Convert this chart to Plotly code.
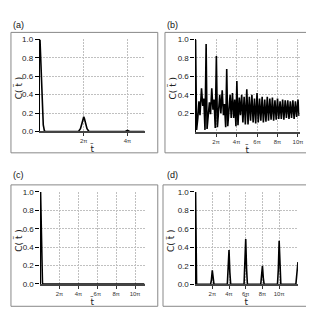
import plotly.graph_objects as go

W, H = 314, 313

# ---------------- data (time in units of pi) ----------------
a_t = [0, 0.03, 0.06, 0.10, 0.15, 0.20, 0.24, 1.76, 1.85, 1.92, 1.97, 2.0, 2.03, 2.08, 2.15, 2.24,
       3.9, 4.0, 4.1, 4.78]
a_v = [1.0, 0.80, 0.45, 0.22, 0.07, 0.01, 0.0, 0.0, 0.03, 0.09, 0.14, 0.16, 0.14, 0.09, 0.03, 0.0,
       0.0, 0.012, 0.0, 0.0]

b_t = [0.00, 0.10, 0.22, 0.33, 0.43, 0.58, 0.70, 0.80, 0.92,
       1.03, 1.12, 1.25, 1.35, 1.46, 1.58, 1.70, 1.80, 1.92,
       2.03, 2.13, 2.25, 2.36, 2.47, 2.60, 2.72, 2.82, 2.94,
       3.04, 3.14, 3.26, 3.37, 3.48, 3.60, 3.72, 3.82, 3.94,
       4.03, 4.14, 4.27, 4.38, 4.50, 4.62, 4.74, 4.86,
       5.00, 5.12, 5.25, 5.37, 5.50, 5.62, 5.75, 5.87,
       6.00, 6.12, 6.25, 6.37, 6.50, 6.62, 6.75, 6.87,
       7.00, 7.12, 7.25, 7.37, 7.50, 7.62, 7.75, 7.87,
       8.00, 8.12, 8.25, 8.37, 8.50, 8.62, 8.75, 8.87,
       9.00, 9.12, 9.25, 9.37, 9.50, 9.62, 9.75, 9.87, 10.0, 10.1]
b_v = [1.00, 0.02, 0.15, 0.33, 0.18, 0.47, 0.28, 0.36, 0.02,
       0.95, 0.03, 0.20, 0.32, 0.19, 0.47, 0.24, 0.35, 0.04,
       0.82, 0.05, 0.25, 0.40, 0.20, 0.45, 0.18, 0.30, 0.05,
       0.68, 0.06, 0.30, 0.40, 0.15, 0.42, 0.15, 0.35, 0.06,
       0.55, 0.07, 0.37, 0.18, 0.40, 0.10, 0.38, 0.08,
       0.46, 0.08, 0.38, 0.12, 0.40, 0.10, 0.36, 0.09,
       0.42, 0.10, 0.36, 0.12, 0.38, 0.10, 0.35, 0.11,
       0.38, 0.12, 0.36, 0.13, 0.37, 0.12, 0.34, 0.13,
       0.36, 0.14, 0.33, 0.14, 0.35, 0.13, 0.34, 0.15,
       0.34, 0.14, 0.33, 0.15, 0.34, 0.14, 0.33, 0.16, 0.35, 0.17]

c_t = [0, 0.04, 0.08, 0.12, 0.16, 0.20, 0.24, 11.0]
c_v = [1.0, 0.75, 0.45, 0.20, 0.06, 0.01, 0.0, 0.0]

d_t = [0, 0.04, 0.08, 0.12,
       1.8, 1.9, 2.0, 2.1, 2.2,
       3.8, 3.9, 4.0, 4.1, 4.2,
       5.8, 5.9, 6.0, 6.1, 6.2,
       7.8, 7.9, 8.0, 8.1, 8.2,
       9.8, 9.9, 10.0, 10.1, 10.2,
       12.0, 12.25]
d_v = [1.0, 0.55, 0.15, 0.0,
       0.0, 0.05, 0.15, 0.05, 0.0,
       0.0, 0.13, 0.37, 0.13, 0.0,
       0.0, 0.17, 0.49, 0.17, 0.0,
       0.0, 0.07, 0.20, 0.07, 0.0,
       0.0, 0.16, 0.47, 0.16, 0.0,
       0.0, 0.24]

y_ticks_full = [0.0, 0.2, 0.4, 0.6, 0.8, 1.0]
y_ticks_b = [0.2, 0.4, 0.6, 0.8, 1.0]
x_ticks_a = [2, 4]
x_ticks_other = [2, 4, 6, 8, 10]
x_labels_a = ["2π", "4π"]
x_labels_other = ["2π", "4π", "6π", "8π", "10π"]
panel_labels = ["(a)", "(b)", "(c)", "(d)"]

# ---------------- layout geometry (pixels) ----------------
def fx(px):
    return px / W

def fy(py):
    return 1 - py / H

panels = [
    dict(t=a_t, v=a_v, xr=[0, 4.78], area=(32.4, 138.3, 28.3, 123.0),
         frame=(3, 151.7, 21, 145), xt=x_ticks_a, xl=x_labels_a, yt=y_ticks_full,
         lab=(3, 13)),
    dict(t=b_t, v=b_v, xr=[0, 10.15], area=(190.0, 295.3, 28.3, 123.3),
         frame=(159, 309, 21, 145), xt=x_ticks_other, xl=x_labels_other, yt=y_ticks_b,
         lab=(159, 13)),
    dict(t=c_t, v=c_v, xr=[0, 11.0], area=(33.0, 138.3, 185.3, 280.0),
         frame=(3, 151.7, 178, 303), xt=x_ticks_other, xl=x_labels_other, yt=y_ticks_full,
         lab=(3, 168)),
    dict(t=d_t, v=d_v, xr=[0, 12.25], area=(190.0, 293.7, 185.3, 280.3),
         frame=(157, 309, 178, 303), xt=x_ticks_other, xl=x_labels_other, yt=y_ticks_full,
         lab=(159, 168)),
]

fig = go.Figure()
shapes = []
annotations = []
layout_axes = {}
FONT = "Liberation Sans, Arial, sans-serif"
TFONT = "DejaVu Sans, sans-serif"

for i, p in enumerate(panels):
    n = "" if i == 0 else str(i + 1)
    x0, x1, yt, yb = p["area"]
    fig.add_trace(go.Scatter(x=p["t"], y=p["v"], mode="lines",
                             line=dict(color="black", width=1.6),
                             xaxis="x" + n, yaxis="y" + n, showlegend=False,
                             hoverinfo="skip"))
    layout_axes["xaxis" + n] = dict(
        domain=[fx(x0), fx(x1)], range=p["xr"], anchor="y" + n,
        tickvals=p["xt"], ticktext=p["xl"], ticks="outside", ticklen=3,
        tickcolor="#333", tickwidth=1,
        showline=True, linecolor="#444", linewidth=1.6,
        showgrid=True, gridcolor="#c0c0c0", griddash="2px,1px", gridwidth=0.8,
        zeroline=False, tickfont=dict(size=6, color="#333", family=FONT),
        fixedrange=True)
    layout_axes["yaxis" + n] = dict(
        domain=[fy(yb), fy(yt)], range=[0, 1.0], anchor="x" + n,
        tickvals=p["yt"], ticktext=["%.1f" % v for v in p["yt"]],
        ticks="outside", ticklen=4, tickcolor="black", tickwidth=1,
        showline=True, linecolor="black", linewidth=1.4,
        showgrid=True, gridcolor="#c0c0c0", griddash="2px,1px", gridwidth=0.8,
        zeroline=False, tickfont=dict(size=8, color="#222", family=FONT),
        fixedrange=True)
    fx0, fx1, fy0, fy1 = p["frame"]
    shapes.append(dict(type="rect", xref="paper", yref="paper",
                       x0=fx(fx0), x1=fx(fx1), y0=fy(fy1), y1=fy(fy0),
                       line=dict(color="#888", width=1)))
    lx, ly = p["lab"]
    annotations.append(dict(text=panel_labels[i], x=fx(lx), y=fy(ly), xref="paper", yref="paper",
                            xanchor="left", yanchor="middle", showarrow=False,
                            font=dict(size=9, color="#111", family=FONT)))
    annotations.append(dict(text="t̃", x=fx((x0 + x1) / 2), y=fy(yb + 18), xref="paper",
                            yref="paper", xanchor="center", yanchor="middle", showarrow=False,
                            font=dict(size=9, color="#222", family=TFONT)))
    annotations.append(dict(text="C( t̃ )", x=fx(fx0 + 8), y=fy((yt + yb) / 2 + 2), xref="paper",
                            yref="paper", xanchor="center", yanchor="middle", showarrow=False,
                            textangle=-90, font=dict(size=9, color="#222", family=TFONT)))

fig.update_layout(width=W, height=H, margin=dict(l=0, r=0, t=0, b=0),
                  paper_bgcolor="white", plot_bgcolor="white",
                  shapes=shapes, annotations=annotations, **layout_axes)

fig.write_html("out.html")
